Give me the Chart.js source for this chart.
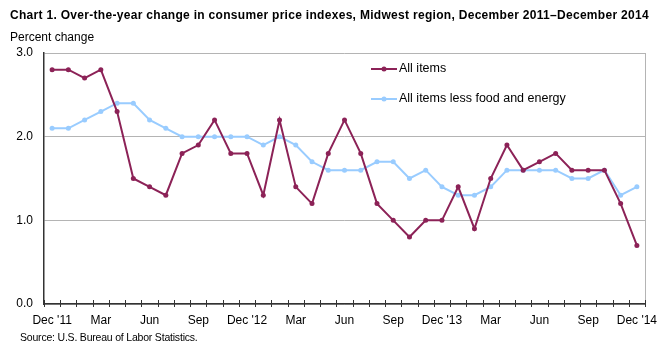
<!DOCTYPE html>
<html>
<head>
<meta charset="utf-8">
<script src="https://cdn.jsdelivr.net/npm/chart.js@4.4.1/dist/chart.umd.min.js"></script>
<style>
    html, body { margin: 0; padding: 0; background: #fff; }
    #wrap { position: relative; width: 670px; height: 351px; font-family: "Liberation Sans", Arial, sans-serif; color: #000; }
    #chart { position: absolute; left: 0; top: 0; }
    .txt { position: absolute; white-space: nowrap; }
    #title { left: 10px; top: 8px; font-size: 12px; font-weight: bold; letter-spacing: 0.3px; }
    #unit { left: 10px; top: 30px; font-size: 12px; }
    #source { left: 20px; top: 331px; font-size: 10.5px; letter-spacing: -0.2px; }
</style>
</head>
<body>
<div id="wrap">
    <canvas id="chart" width="670" height="351"></canvas>
    <div class="txt" id="title">Chart 1. Over-the-year change in consumer price indexes, Midwest region, December 2011–December 2014</div>
    <div class="txt" id="unit">Percent change</div>
    <div class="txt" id="source">Source: U.S. Bureau of Labor Statistics.</div>
</div>
<script>
// months Dec 2011 - Dec 2014
var months = [
    'Dec 2011', 'Jan 2012', 'Feb 2012', 'Mar 2012', 'Apr 2012', 'May 2012', 'Jun 2012',
    'Jul 2012', 'Aug 2012', 'Sep 2012', 'Oct 2012', 'Nov 2012', 'Dec 2012',
    'Jan 2013', 'Feb 2013', 'Mar 2013', 'Apr 2013', 'May 2013', 'Jun 2013',
    'Jul 2013', 'Aug 2013', 'Sep 2013', 'Oct 2013', 'Nov 2013', 'Dec 2013',
    'Jan 2014', 'Feb 2014', 'Mar 2014', 'Apr 2014', 'May 2014', 'Jun 2014',
    'Jul 2014', 'Aug 2014', 'Sep 2014', 'Oct 2014', 'Nov 2014', 'Dec 2014'
];
var tickLabels = {
    0: "Dec '11", 3: 'Mar', 6: 'Jun', 9: 'Sep', 12: "Dec '12", 15: 'Mar', 18: 'Jun',
    21: 'Sep', 24: "Dec '13", 27: 'Mar', 30: 'Jun', 33: 'Sep', 36: "Dec '14"
};
var allItems = [
    2.8, 2.8, 2.7, 2.8, 2.3, 1.5, 1.4, 1.3, 1.8, 1.9, 2.2, 1.8, 1.8,
    1.3, 2.2, 1.4, 1.2, 1.8, 2.2, 1.8, 1.2, 1.0, 0.8, 1.0, 1.0,
    1.4, 0.9, 1.5, 1.9, 1.6, 1.7, 1.8, 1.6, 1.6, 1.6, 1.2, 0.7
];
var lessFoodEnergy = [
    2.1, 2.1, 2.2, 2.3, 2.4, 2.4, 2.2, 2.1, 2.0, 2.0, 2.0, 2.0, 2.0,
    1.9, 2.0, 1.9, 1.7, 1.6, 1.6, 1.6, 1.7, 1.7, 1.5, 1.6, 1.4,
    1.3, 1.3, 1.4, 1.6, 1.6, 1.6, 1.6, 1.5, 1.5, 1.6, 1.3, 1.4
];
var yTicks = [0, 1, 2, 3];

var maroon = '#8c2257';
var lightBlue = '#99ccff';
var axisColor = '#333333';
var gridColor = '#b4b4b4';
var fontFamily = '"Liberation Sans", Arial, sans-serif';

// tick marks crossing the x axis + right border of the plot
var framePlugin = {
    id: 'frame',
    afterDraw: function(chart) {
        var ctx = chart.ctx;
        var area = chart.chartArea;
        var xs = chart.scales.x;
        var step = xs.getPixelForValue(1) - xs.getPixelForValue(0);
        ctx.save();
        ctx.strokeStyle = gridColor;
        ctx.lineWidth = 1;
        ctx.beginPath();
        ctx.moveTo(area.right + 0.5, area.top);
        ctx.lineTo(area.right + 0.5, area.bottom);
        ctx.stroke();
        ctx.strokeStyle = axisColor;
        ctx.beginPath();
        for (var i = 0; i <= months.length; i++) {
            var x = Math.round(xs.getPixelForValue(0) - step / 2 + i * step) + 0.5;
            ctx.moveTo(x, area.bottom - 4);
            ctx.lineTo(x, area.bottom + 3);
        }
        ctx.stroke();
        ctx.restore();
    }
};

// legend drawn inside the plot area
var legendPlugin = {
    id: 'innerLegend',
    afterDraw: function(chart) {
        var ctx = chart.ctx;
        var rows = [69, 99];
        ctx.save();
        ctx.font = '12.5px ' + fontFamily;
        ctx.textBaseline = 'middle';
        chart.data.datasets.forEach(function(ds, i) {
            var y = rows[i];
            ctx.strokeStyle = ds.borderColor;
            ctx.lineWidth = 2;
            ctx.beginPath();
            ctx.moveTo(371, y);
            ctx.lineTo(397, y);
            ctx.stroke();
            ctx.fillStyle = ds.borderColor;
            ctx.beginPath();
            ctx.arc(384, y, 2.5, 0, Math.PI * 2);
            ctx.fill();
            ctx.fillStyle = '#000';
            ctx.fillText(ds.label, 399, y);
        });
        ctx.restore();
    }
};

var ctx = document.getElementById('chart').getContext('2d');
var cpiChart = new Chart(ctx, {
    type: 'line',
    data: {
        labels: months,
        datasets: [
            {
                label: 'All items',
                data: allItems,
                borderColor: maroon,
                backgroundColor: maroon,
                pointBackgroundColor: maroon,
                pointBorderWidth: 0,
                pointRadius: 2.5,
                borderWidth: 2,
                tension: 0
            },
            {
                label: 'All items less food and energy',
                data: lessFoodEnergy,
                borderColor: lightBlue,
                backgroundColor: lightBlue,
                pointBackgroundColor: lightBlue,
                pointBorderWidth: 0,
                pointRadius: 2.5,
                borderWidth: 2,
                tension: 0
            }
        ]
    },
    options: {
        responsive: false,
        animation: false,
        layout: { padding: { top: 53, right: 25, left: 0, bottom: 0 } },
        plugins: {
            legend: { display: false },
            title: { display: false },
            tooltip: { enabled: false }
        },
        scales: {
            x: {
                offset: true,
                grid: { offset: true, drawOnChartArea: false, drawTicks: false },
                border: { display: true, color: axisColor, width: 1.5 },
                ticks: {
                    autoSkip: false,
                    maxRotation: 0,
                    padding: 9,
                    color: '#000',
                    font: { family: fontFamily, size: 12 },
                    callback: function(v, i) { return tickLabels[i] || ''; }
                },
                afterFit: function(scale) { scale.height = 47; }
            },
            y: {
                min: 0,
                max: 3,
                afterBuildTicks: function(scale) {
                    scale.ticks = yTicks.map(function(v) { return { value: v }; });
                },
                grid: { color: gridColor, drawTicks: false },
                border: { display: true, color: axisColor, width: 1.5 },
                ticks: {
                    padding: 11,
                    color: '#000',
                    font: { family: fontFamily, size: 12 },
                    callback: function(v) { return v.toFixed(1); }
                },
                afterFit: function(scale) { scale.width = 44; }
            }
        }
    },
    plugins: [framePlugin, legendPlugin]
});
</script>
</body>
</html>
